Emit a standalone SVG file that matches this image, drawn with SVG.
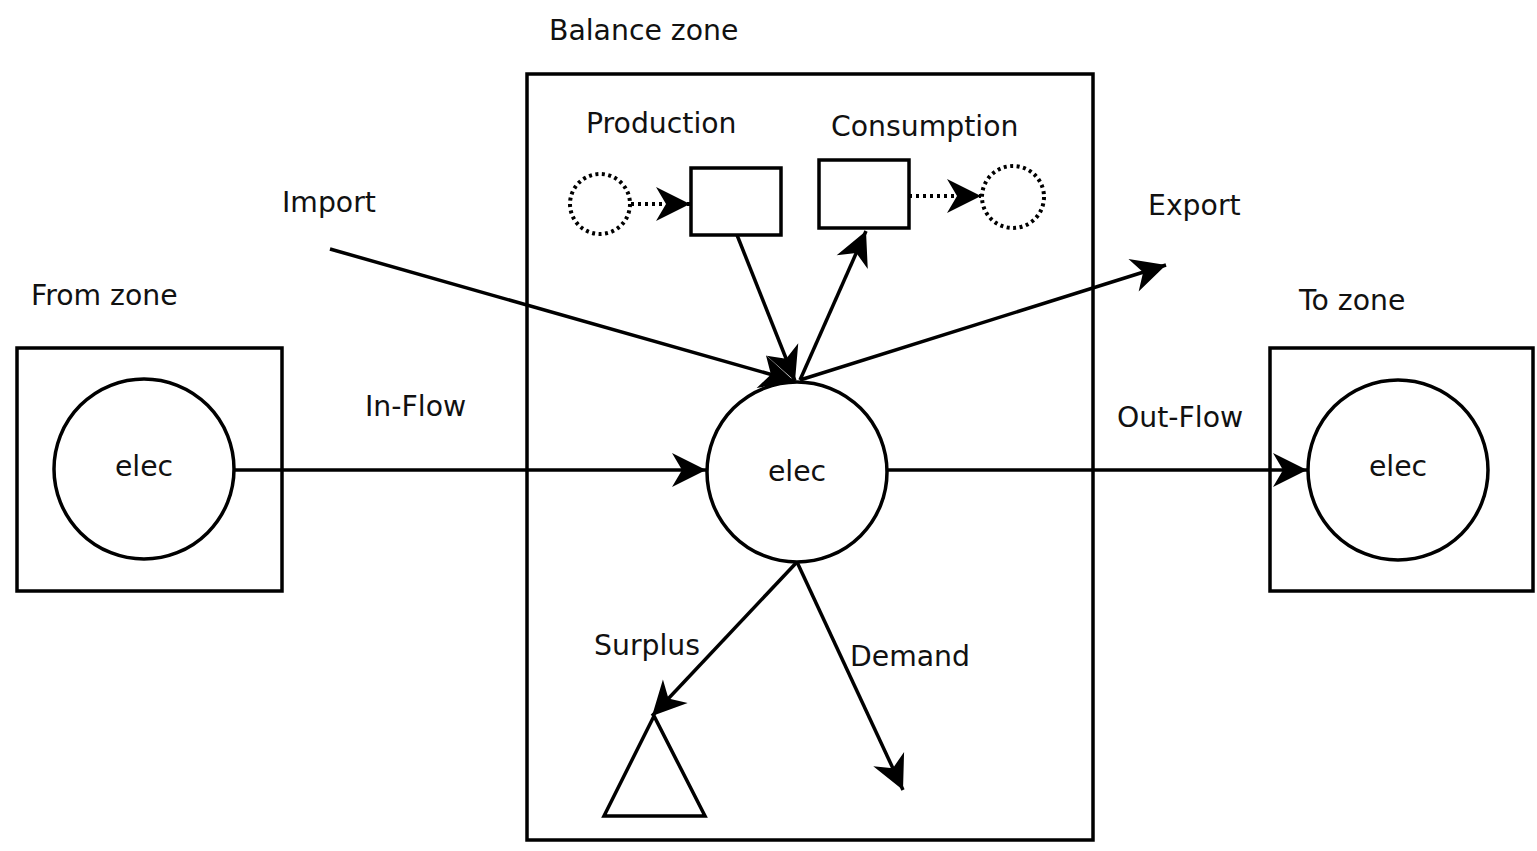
<svg xmlns="http://www.w3.org/2000/svg" width="1537" height="851" viewBox="0 0 1537 851">
  <style>
    .box { fill: #fff; stroke: #000; stroke-width: 3.5; }
    .node { fill: #fff; stroke: #000; stroke-width: 3.5; }
    .dot { fill: none; stroke: #000; stroke-width: 4; stroke-dasharray: 3 3.5; }
    .edge { fill: none; stroke: #000; stroke-width: 3.5; marker-end: url(#arrow); }
    .dedge { fill: none; stroke: #000; stroke-width: 4; stroke-dasharray: 3 4; marker-end: url(#arrow); }
    text { font-family: "DejaVu Sans", Verdana, sans-serif; font-size: 28.3px; fill: #111; }
    .mid { text-anchor: middle; }
  </style>
  <defs>
    <marker id="arrow" markerUnits="userSpaceOnUse" markerWidth="44" markerHeight="44" viewBox="-38 -22 44 44" refX="0" refY="0" orient="auto">
      <path d="M0,0 L-34,-17 L-24,0 L-34,17 Z" fill="#000"/>
    </marker>
  </defs>

  <!-- zone frames -->
  <g id="from-zone">
    <rect class="box" x="17" y="348" width="265" height="243"/>
    <text x="31" y="305">From zone</text>
  </g>
  <g id="balance-zone">
    <rect class="box" x="527" y="74" width="566" height="766"/>
    <text x="549" y="40">Balance zone</text>
  </g>
  <g id="to-zone">
    <rect class="box" x="1270" y="348" width="263" height="243"/>
    <text x="1299" y="310">To zone</text>
  </g>

  <!-- connectors -->
  <g id="connectors">
    <line class="edge" x1="234" y1="470" x2="706" y2="470"/>
    <line class="edge" x1="887" y1="470" x2="1307" y2="470"/>
    <line class="edge" x1="330" y1="249" x2="794" y2="381"/>
    <line class="edge" x1="737" y1="235" x2="795" y2="381"/>
    <line class="edge" x1="800" y1="380" x2="866" y2="231"/>
    <line class="edge" x1="800" y1="380" x2="1166" y2="265"/>
    <line class="edge" x1="797" y1="562" x2="652" y2="716"/>
    <line class="edge" x1="797" y1="562" x2="903" y2="790"/>
    <line class="dedge" x1="631" y1="204" x2="690" y2="204"/>
    <line class="dedge" x1="909" y1="196" x2="981" y2="196"/>
  </g>

  <!-- nodes -->
  <g id="from-elec">
    <circle class="node" cx="144" cy="469" r="90"/>
    <text class="mid" x="144" y="476">elec</text>
  </g>
  <g id="balance-elec">
    <circle class="node" cx="797" cy="472" r="90"/>
    <text class="mid" x="797" y="481">elec</text>
  </g>
  <g id="to-elec">
    <circle class="node" cx="1398" cy="470" r="90"/>
    <text class="mid" x="1398" y="476">elec</text>
  </g>
  <g id="production">
    <rect class="box" x="691" y="168" width="90" height="67"/>
    <text x="586" y="133">Production</text>
  </g>
  <g id="consumption">
    <rect class="box" x="819" y="160" width="90" height="68"/>
    <text x="831" y="136">Consumption</text>
  </g>
  <g id="prod-source">
    <circle class="dot" cx="600" cy="204" r="30"/>
  </g>
  <g id="cons-sink">
    <circle class="dot" cx="1013" cy="197" r="31"/>
  </g>
  <g id="surplus">
    <polygon class="node" points="654,716 604,816 705,816"/>
    <text x="594" y="655">Surplus</text>
  </g>

  <!-- connector labels -->
  <g id="labels">
    <text x="282" y="212">Import</text>
    <text x="1148" y="215">Export</text>
    <text x="365" y="416">In-Flow</text>
    <text x="1117" y="427">Out-Flow</text>
    <text x="850" y="666">Demand</text>
  </g>
</svg>
